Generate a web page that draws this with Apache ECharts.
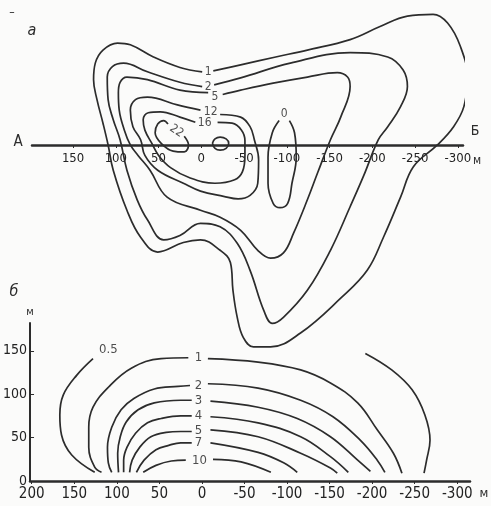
<!DOCTYPE html>
<html><head><meta charset="utf-8">
<script src="https://cdn.jsdelivr.net/npm/echarts@6/dist/echarts.min.js"></script>
<style>html,body{margin:0;padding:0;background:#fbfbfa}#c{width:491px;height:506px}</style>
</head><body><div id="c"></div>
<script>
// ---- tick labels ----
const topTicks = [150, 100, 50, 0, -50, -100, -150, -200, -250, -300];
const botTicksX = [200, 150, 100, 50, 0, -50, -100, -150, -200, -250, -300];
const botTicksY = [0, 50, 100, 150];

// ---- panel а: contour lines [distance m, offset m] ----
const topC1 = [[-14,85],[-46,92],[-87,101],[-124,109],[-174,121],[-209,136],[-241,148],[-271,150],[-288,140],[-303,113],[-311,78],[-307,44],[-295,21],[-276,0],[-248,-25],[-233,-60],[-213,-106],[-194,-144],[-163,-176],[-116,-216],[-81,-232],[-61,-232],[-49,-221],[-42,-198],[-37,-167],[-34,-135],[-22,-121],[1,-109],[21,-112],[51,-123],[71,-106],[87,-75],[103,-29],[109,0],[115,25],[122,52],[126,75],[124,94],[115,109],[98,117],[83,115],[56,101],[25,89],[-1,84]];
const topC2 = [[-15,69],[-46,77],[-104,94],[-174,106],[-218,101],[-236,86],[-241,67],[-233,44],[-218,21],[-207,6],[-190,-35],[-174,-71],[-151,-121],[-124,-167],[-96,-198],[-83,-205],[-73,-190],[-57,-144],[-42,-113],[-22,-94],[1,-90],[25,-104],[44,-109],[63,-86],[75,-63],[87,-29],[95,6],[103,29],[109,52],[110,78],[104,90],[91,94],[63,84],[25,72],[-1,67]];
const topC5 = [[-25,58],[-46,63],[-84,71],[-124,78],[-159,83],[-171,78],[-174,67],[-163,32],[-151,6],[-136,-32],[-124,-63],[-108,-101],[-96,-124],[-81,-130],[-66,-121],[-46,-98],[-22,-83],[1,-75],[40,-60],[60,-29],[74,-12],[83,0],[90,17],[96,40],[97,60],[95,72],[87,78],[63,75],[25,63],[-8,60]];
const topC12 = [[-22,35],[-46,32],[-57,21],[-62,6],[-67,-17],[-66,-44],[-57,-58],[-43,-62],[-26,-59],[1,-53],[21,-44],[51,-29],[66,-12],[71,6],[80,21],[83,40],[77,52],[63,55],[28,46],[1,40]];
const topC16 = [[-19,26],[-36,25],[-47,17],[-51,5],[-51,-12],[-48,-31],[-39,-40],[-16,-44],[13,-38],[36,-26],[50,-12],[58,2],[66,17],[68,29],[62,37],[48,38],[25,32],[7,26]];
const topC22 = [[20,10],[15,0],[20,-8],[33,-7],[46,1],[54,14],[51,24],[44,28],[39,24]];
const topSmall = [[-13,2],[-16,7],[-22,9],[-29,7],[-32,2],[-29,-4],[-22,-6],[-16,-4],[-13,2]];
const topTall = [[-103,28],[-109,14],[-111,-14],[-106,-44],[-101,-67],[-92,-72],[-84,-67],[-78,-44],[-78,-14],[-83,14],[-91,28]];
const topLabelText = ['1', '2', '5', '12', '16', '22', '0'];
const topLabelX = [-8, -8, -16, -11, -4, 29, -97];
const topLabelY = [84, 67, 55, 38, 25, 16, 36];

// ---- panel б: contour lines [distance m, height m] ----
const bot05L = [[128,141],[147,122],[163,99],[167,76],[165,53],[153,30],[126,10]];
const bot05R = [[-192,147],[-223,128],[-247,105],[-262,76],[-268,47],[-264,24],[-261,9]];
const bot1L = [[118,10],[126,16],[133,39],[133,62],[128,85],[110,108],[83,130],[48,141],[16,142]];
const bot1R = [[-7,141],[-66,137],[-116,128],[-151,113],[-183,90],[-206,59],[-225,32],[-235,9]];
const bot2L = [[106,10],[110,21],[111,39],[106,62],[95,82],[80,95],[56,106],[28,109],[14,110]];
const bot2R = [[-7,112],[-66,107],[-116,93],[-154,74],[-186,47],[-206,24],[-215,10]];
const bot3L = [[98,10],[99,32],[96,51],[89,68],[75,82],[56,90],[25,93],[12,93]];
const bot3R = [[-10,92],[-66,85],[-112,72],[-151,51],[-183,24],[-198,11]];
const bot4L = [[92,10],[92,24],[88,39],[78,55],[64,67],[48,72],[25,75],[12,75]];
const bot4R = [[-10,74],[-66,67],[-116,51],[-151,28],[-172,10]];
const bot5L = [[85,10],[82,24],[73,39],[60,51],[42,56],[25,57],[12,57]];
const bot5R = [[-10,59],[-66,51],[-116,32],[-151,15],[-159,9]];
const bot7L = [[77,10],[68,24],[54,36],[39,41],[25,44],[12,44]];
const bot7R = [[-10,44],[-66,33],[-96,21],[-112,10]];
const bot10L = [[69,10],[54,18],[36,23],[19,24]];
const bot10R = [[-13,25],[-46,22],[-81,10]];
const botLabelText = ['0.5', '1', '2', '3', '4', '5', '7', '10'];
const botLabelX = [110, 4, 4, 4, 4, 4, 4, 3];
const botLabelY = [151, 142, 110, 93, 75, 58, 44, 24];

const FONT = "'Liberation Sans Narrow','DejaVu Sans Condensed','Liberation Sans',sans-serif";
const INK = '#2c2c2c';

function contour(data, idx) {
  return { type: 'line', xAxisIndex: idx, yAxisIndex: idx, data: data, symbol: 'none', showSymbol: false,
    smooth: 0.4, clip: false, silent: true, animation: false,
    lineStyle: { color: INK, width: 1.7 } };
}
function labels(texts, xs, ys, idx, size, rot) {
  return { type: 'scatter', xAxisIndex: idx, yAxisIndex: idx, symbolSize: 1, silent: true, animation: false,
    itemStyle: { color: 'rgba(0,0,0,0)' },
    labelLayout: { hideOverlap: false },
    data: texts.map((t, i) => ({ value: [xs[i], ys[i]], name: t,
      label: { rotate: (rot && rot[i]) || 0 } })),
    label: { show: true, position: 'inside', formatter: '{b}', color: '#222', fontSize: size, fontFamily: FONT } };
}

const chart = echarts.init(document.getElementById('c'), null, { renderer: 'canvas' });
chart.setOption({
  backgroundColor: '#fbfbfa',
  animation: false,
  grid: [
    { left: 32, right: 28, top: 10, bottom: 146 },
    { left: 28, right: 21, top: 323, bottom: 25 },
    { left: 32, right: 28, top: 100, bottom: 361 }
  ],
  xAxis: [
    { gridIndex: 0, type: 'value', min: -306, max: 198, inverse: true, show: false },
    { gridIndex: 1, type: 'value', min: -315, max: 202, inverse: true,
      axisLine: { show: true, onZero: false, lineStyle: { color: INK, width: 2.5 } },
      axisTick: { show: true, length: 3, customValues: botTicksX, lineStyle: { color: INK } },
      axisLabel: { customValues: botTicksX, margin: 6, color: '#222', fontSize: 15, fontFamily: FONT,
        formatter: v => String(v) },
      splitLine: { show: false } },
    { gridIndex: 2, type: 'value', min: -306, max: 198, inverse: true, position: 'bottom',
      axisLine: { show: true, onZero: false, lineStyle: { color: INK, width: 2.5 } },
      axisTick: { show: true, length: 3, customValues: topTicks, lineStyle: { color: INK } },
      axisLabel: { customValues: topTicks, margin: 7, color: '#222', fontSize: 13, fontFamily: FONT,
        formatter: v => String(v) },
      splitLine: { show: false } }
  ],
  yAxis: [
    { gridIndex: 0, type: 'value', min: -247, max: 155, show: false },
    { gridIndex: 1, type: 'value', min: 0, max: 182,
      axisLine: { show: true, onZero: false, lineStyle: { color: INK, width: 2 } },
      axisTick: { show: true, inside: true, length: 4, customValues: botTicksY, lineStyle: { color: INK } },
      axisLabel: { customValues: botTicksY, margin: 3, color: '#222', fontSize: 14, fontFamily: FONT },
      splitLine: { show: false } },
    { gridIndex: 2, type: 'value', min: 0, max: 1, show: false }
  ],
  series: [
    contour(topC1, 0), contour(topC2, 0), contour(topC5, 0), contour(topC12, 0),
    contour(topC16, 0), contour(topC22, 0), contour(topSmall, 0), contour(topTall, 0),
    labels(topLabelText, topLabelX, topLabelY, 0, 12, [0, 0, 0, 0, 0, -35, 0]),
    contour(bot05L, 1), contour(bot05R, 1), contour(bot1L, 1), contour(bot1R, 1),
    contour(bot2L, 1), contour(bot2R, 1), contour(bot3L, 1), contour(bot3R, 1),
    contour(bot4L, 1), contour(bot4R, 1), contour(bot5L, 1), contour(bot5R, 1),
    contour(bot7L, 1), contour(bot7R, 1), contour(bot10L, 1), contour(bot10R, 1),
    labels(botLabelText, botLabelX, botLabelY, 1, 13)
  ],
  graphic: [
    { type: 'text', x: 12, y: 13, style: { text: '–', fill: INK, font: '12px ' + FONT, align: 'center', verticalAlign: 'middle' } },
    { type: 'text', x: 32, y: 31, style: { text: 'а', fill: INK, font: 'italic 16px ' + FONT, align: 'center', verticalAlign: 'middle' } },
    { type: 'text', x: 18, y: 142, style: { text: 'А', fill: INK, font: '15px ' + FONT, align: 'center', verticalAlign: 'middle' } },
    { type: 'text', x: 475, y: 131, style: { text: 'Б', fill: INK, font: '14px ' + FONT, align: 'center', verticalAlign: 'middle' } },
    { type: 'text', x: 477, y: 161, style: { text: 'м', fill: INK, font: '12px ' + FONT, align: 'center', verticalAlign: 'middle' } },
    { type: 'text', x: 14, y: 292, style: { text: 'б', fill: INK, font: 'italic 16px ' + FONT, align: 'center', verticalAlign: 'middle' } },
    { type: 'text', x: 30, y: 312, style: { text: 'м', fill: INK, font: '11px ' + FONT, align: 'center', verticalAlign: 'middle' } },
    { type: 'text', x: 484, y: 494, style: { text: 'м', fill: INK, font: '13px ' + FONT, align: 'center', verticalAlign: 'middle' } }
  ]
});
</script>
</body></html>
